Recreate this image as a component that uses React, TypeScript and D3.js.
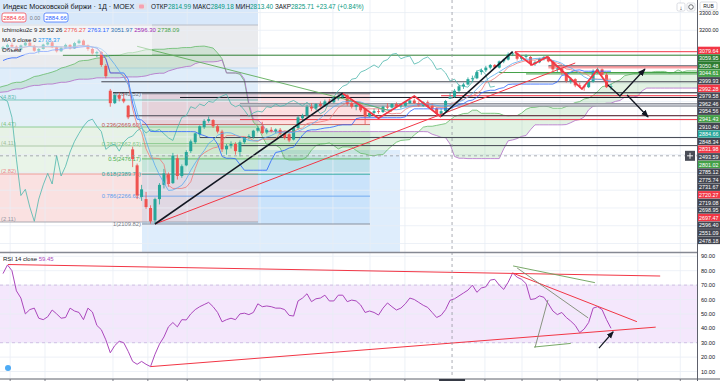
import React from "react";
import * as d3 from "d3";

// ---------- DATA ----------
// earlier candles (off-screen, used for Ichimoku windows) [open, high, low, close]
const preCandles: number[][] = [
  [2760,2775,2745,2770],[2770,2790,2760,2785],[2785,2800,2770,2795],[2795,2805,2775,2780],
  [2780,2810,2775,2805],[2805,2830,2800,2825],[2825,2845,2815,2840],[2840,2860,2830,2850],
  [2850,2870,2840,2865],[2865,2880,2850,2860],[2860,2890,2855,2885],[2885,2905,2875,2900],
  [2900,2925,2890,2918],[2918,2935,2905,2928],[2928,2940,2910,2915],[2915,2930,2895,2905],
  [2905,2925,2900,2920],[2920,2945,2915,2940],[2940,2955,2930,2950],[2950,2960,2935,2945],
  [2945,2965,2940,2960],[2960,2985,2955,2980],[2980,2995,2965,2975],[2975,2990,2960,2985],
  [2985,3010,2980,3005],[3005,3025,2995,3020],[3020,3035,3005,3015],[3015,3030,3000,3025],
  [3025,3045,3020,3040],[3040,3050,3025,3030],[3030,3045,3020,3042],[3042,3060,3035,3055],
  [3055,3070,3045,3050],[3050,3065,3040,3060],[3060,3080,3055,3075],[3075,3095,3065,3090],
  [3090,3105,3075,3080],[3080,3090,3060,3070],[3070,3095,3065,3090],[3090,3110,3085,3105],
  [3105,3120,3095,3100],[3100,3110,3080,3085],[3085,3100,3075,3095],[3095,3115,3090,3110],
  [3110,3120,3085,3095],
];

// visible daily candles [open, high, low, close]
const candles: number[][] = [
  [3095,3112,3080,3105],[3105,3125,3098,3118],[3118,3130,3100,3108],[3108,3115,3085,3090],
  [3090,3120,3088,3115],[3115,3135,3110,3130],[3130,3142,3110,3112],[3112,3118,3080,3085],
  [3085,3100,3070,3095],[3095,3125,3092,3120],[3120,3138,3115,3132],[3132,3140,3100,3105],
  [3105,3112,3075,3082],[3082,3108,3078,3102],[3102,3125,3098,3118],[3118,3122,3092,3098],
  [3098,3135,3095,3128],[3128,3150,3122,3142],[3142,3148,3110,3115],[3115,3120,3085,3095],
  [3095,3105,3062,3070],[3070,3085,3050,3078],[3078,3082,2995,3005],[3000,3010,2930,2942],
  [2860,2870,2770,2790],[2790,2845,2785,2835],[2835,2850,2800,2815],[2815,2845,2790,2800],
  [2776,2780,2700,2710],[2530,2545,2430,2475],[2440,2450,2250,2270],[2262,2330,2240,2305],
  [2250,2290,2195,2205],[2200,2215,2112,2125],[2130,2258,2109.82,2250],[2250,2340,2220,2330],
  [2330,2420,2310,2395],[2390,2400,2320,2335],[2340,2510,2335,2495],[2480,2500,2360,2380],
  [2380,2445,2370,2435],[2440,2525,2435,2515],[2520,2585,2510,2575],[2570,2625,2560,2620],
  [2615,2665,2600,2660],[2655,2700,2645,2690],[2690,2715,2680,2700],[2695,2700,2650,2660],
  [2660,2670,2620,2630],[2630,2640,2515,2530],[2530,2560,2500,2550],[2550,2575,2535,2560],
  [2560,2570,2500,2520],[2515,2580,2490,2570],[2570,2600,2560,2595],[2595,2615,2585,2605],
  [2600,2640,2590,2635],[2635,2660,2625,2650],[2660,2685,2615,2622],[2625,2650,2615,2640],
  [2640,2655,2625,2632],[2632,2648,2620,2642],[2640,2650,2610,2618],[2618,2625,2585,2595],
  [2615,2625,2570,2580],[2585,2660,2580,2650],[2650,2720,2640,2710],[2705,2730,2690,2720],
  [2720,2780,2710,2770],[2770,2790,2745,2760],[2760,2790,2750,2785],[2785,2800,2765,2775],
  [2775,2810,2770,2800],[2800,2815,2785,2795],[2795,2825,2790,2818],[2815,2840,2805,2830],
  [2825,2846,2818,2840],[2835,2840,2775,2785],[2790,2800,2760,2770],[2770,2790,2750,2780],
  [2780,2785,2740,2750],[2760,2765,2670,2715],[2715,2740,2710,2735],[2735,2760,2725,2745],
  [2745,2760,2730,2740],[2740,2775,2735,2770],[2770,2790,2755,2765],[2765,2790,2760,2785],
  [2785,2795,2765,2772],[2772,2785,2760,2778],[2775,2800,2770,2795],[2790,2810,2785,2805],
  [2805,2815,2785,2790],[2790,2800,2770,2775],[2775,2800,2770,2795],[2795,2805,2765,2770],
  [2775,2790,2750,2760],[2760,2765,2715,2730],[2730,2760,2715,2745],[2745,2808,2740,2802.24],
  [2814.99,2849.18,2813.40,2825.71],[2826,2870,2820,2860],[2860,2895,2850,2885],[2885,2905,2870,2895],
  [2895,2935,2890,2925],[2925,2945,2910,2930],[2930,2975,2925,2965],[2965,2985,2950,2975],
  [2975,3000,2965,2990],[2990,3010,2980,3005],[3005,3010,2985,2990],[2990,3030,2985,3025],
  [3025,3040,3015,3035],[3035,3075,3030,3065],[3065,3079.64,3055,3070],[3070,3075,3030,3040],
  [3040,3060,3030,3050],[3050,3065,3040,3055],[3050,3055,3000,3010],[3010,3030,3000,3020],
  [3020,3045,3015,3040],[3040,3055,3030,3050],[3050,3058,3020,3025],[3025,3030,2970,2980],
  [2980,2995,2965,2985],[2985,2990,2950,2960],[2960,2965,2905,2915],[2915,2935,2900,2925],
  [2925,2930,2880,2890],[2890,2905,2875,2885],[2885,2895,2860,2880],[2880,2920,2875,2910],
  [2910,2980,2905,2970],[2970,2990,2955,2980],[2980,2985,2945,2950],[2950,2960,2875,2880],
  [2880,2900,2865,2884.66],
];

// RSI(14) per visible candle
const rsiValues: number[] = [
  78,84,80,66,61,50,53,54,47,46,48,52.7,50,47,47.5,54,52,51,46,54,51.3,42,39,32,23,28,31,30,24,17,
  15,17,15,13.4,22,29,34,41,44,41,46,45.8,50,53,55,56.5,58,55,51,44.5,46,47,46,50,50.5,49.5,51,57,
  55,55.5,55,54,54,53,49,48.5,59,61,64,58.5,60.5,61,63,59,59,63,63,58.5,59.6,59,56.2,51,52,51,49.2,
  54,57.6,55,52.7,54,57,61,60,58,56,54.5,51,47.5,49,53,59.45,60.5,62.5,64.5,66.5,70,65,68,68.8,73.5,
  74,70,67,72,78.4,75.5,74,71,60,60.5,62.5,61.5,57,52,49.5,51,47.5,45,42,37,39.5,44,54,55,53,46,40,
];

const priceGrid = [2000, 2100, 2200, 2300, 2400, 2500, 2600, 2700, 2800, 2900, 3000, 3100, 3200, 3300];
const priceTickLabels = [3300, 3200];
const rsiGrid = [10, 20, 30, 40, 50, 60, 70, 80, 90];
const timeGridIdx = [1.6, 9.4, 24.6, 32.4, 41.2, 57.5, 73.8, 82.1, 89.9, 107.8, 116.1, 124.6, 132.9, 142, 151.5];

// left Fibonacci box levels (prices) and labels
const leftFibLevels = [3380, 3229.9, 2987.9, 2807.8, 2655.8, 2548.8, 2391.2, 2121.0];
const leftFibLabels = ["", "", "", "(4.83)", "(4.47)", "(4.11)", "(2.82)", "(2.11)"];
// second Fibonacci retracement
const fibTop = 2842.52;
const fibBottom = 2109.82;
const fibRatios = [0, 0.236, 0.382, 0.5, 0.618, 0.786, 1];

// horizontal rays: price, start index, kind
const hRayPrices = [3079.64, 3059.95, 2999.93, 2992.28, 2962.46, 2954.56, 2910.40, 2848.34, 2831.98, 2822, 2785.12, 2775.74, 2720.27, 2719.08, 2697.47, 2596.40, 2551.09];
const hRayStart = [114.5, 13.4, 122, 122, 111, 117, 22, 24.6, 98, 39.6, 53, 53, 53, 27.7, 53, 44, 53];
const hRayKind = ["red", "dgreen", "dark", "pink", "green", "green", "dark", "black", "red", "black", "grey", "grey", "red", "dark", "red", "dark", "dark"];

// right-axis stacked price labels
const axisLabelText = ["3079.64","3059.95","3050.48","3044.61","2999.93","2992.28","2979.58","2962.46","2954.56","2941.43","2910.40","2884.66","2848.34","2831.98","2493.59","2801.02","2785.12","2775.74","2731.67","2720.27","2719.08","2698.95","2697.47","2596.40","2551.09","2478.18"];
const axisLabelKind = ["red","dgreen","dgreen","green","dark","red","dark","dark","dark","green","dark","teal","dark","red","cross","green","dark","dark","dark","red","dark","dark","red","dark","dark","dark"];

// drawings (index, price)
const blackTrend1 = [[34, 2109.82], [76, 2846]];
const blackTrend2 = [[98, 2715], [114, 3079.64]];
const redTrend = [[34, 2109.82], [128, 3016]];
const greenDiag = [[30, 3110], [87, 2745]];
const zigzag1 = [[76, 2845], [84, 2705], [92, 2830], [98, 2712]];
const zigzag2 = [[114.5, 3078], [118.3, 3005], [121.7, 3050], [129.5, 2870], [132.9, 2977], [135.3, 2892]];
const arrowUp = [[135.3, 2892], [138, 2830], [143.6, 2982]];
const arrowDown = [[139.6, 2836], [144.3, 2712]];
const crossIdx = 100;
const crossPrice = 2493.59;

// RSI drawings (index, value)
const rsiRedTop = [[1.1, 84.3], [147, 76.3]];
const rsiRedLow = [[33, 13.4], [146, 40.8]];
const rsiRedMid = [[114, 78.4], [141.8, 44.6]];
const rsiGreen1 = [[114.1, 83.3], [132.4, 71.7]];
const rsiGrey1 = [[115, 81.9], [130.9, 47.2]];
const rsiGrey2 = [[121.9, 59.7], [119, 26.6]];
const rsiGreen2 = [[118.8, 27], [127, 29.5]];
const rsiArrow = [[133.3, 26.3], [136.5, 37.6]];

// ---------- CHART ----------
const FONT = "'Liberation Sans', Arial, sans-serif";
const PLOT_R = 697;
const MAIN_B = 252;
const RSI_T = 253;
const RSI_B = 378;

const kindColor: Record<string, string> = {
  red: "#f23645", dgreen: "#2e7d32", green: "#43a047", dark: "#434651", black: "#131722",
  grey: "#9598a1", pink: "#f77c80", teal: "#26a69a", cross: "#4a4d57",
};

export default function App() {
  const x = d3.scaleLinear().domain([0, 136]).range([3, 611]);
  const y = d3.scaleLinear().domain([2109.82, 3079.64]).range([224, 51.7]);
  const yr = d3.scaleLinear().domain([30, 90]).range([342.7, 256.3]);

  const all = preCandles.concat(candles);
  const off = preCandles.length;
  const mid = (k: number, n: number) => {
    let hi = -Infinity, lo = Infinity;
    for (let j = Math.max(0, k - n + 1); j <= k; j++) {
      hi = Math.max(hi, all[j][1]);
      lo = Math.min(lo, all[j][2]);
    }
    return (hi + lo) / 2;
  };
  const tenkan = candles.map((_, i) => [i, mid(i + off, 9)]);
  const kijun = candles.map((_, i) => [i, mid(i + off, 26)]);
  const spans = all.map((_, k) => ({ i: k - off + 26, a: (mid(k, 9) + mid(k, 26)) / 2, b: mid(k, 52) })).filter((d) => d.i >= -3);
  const chikou = candles.map((c, i) => [i - 26, c[3]]);
  const ma9 = candles.map((_, i) => {
    const k = i + off;
    const s = d3.mean(all.slice(Math.max(0, k - 8), k + 1), (d) => d[3]) as number;
    return [i, s];
  });

  const pLine = d3.line<number[]>().x((d) => x(d[0])).y((d) => y(d[1]));
  const rLine = d3.line<number[]>().x((d) => x(d[0])).y((d) => yr(d[1]));
  const cloud = d3.area<any>().x((d) => x(d.i)).y0((d) => y(d.b)).y1((d) => y(d.a));
  const rsiPts = rsiValues.map((v, i) => [i, v]);

  const fibLevels = fibRatios.map((r) => fibTop - r * (fibTop - fibBottom));
  const fibBandColors = ["rgba(242,54,69,0.16)", "rgba(76,175,80,0.14)", "rgba(76,175,80,0.16)", "rgba(0,150,136,0.14)", "rgba(33,150,243,0.10)", "rgba(33,150,243,0.10)"];
  const fibLineColors = ["#787b86", "#c0504d", "#81c784", "#4caf50", "#26a69a", "#5c9ded", "#787b86"];
  const leftBandColors = ["#d4e6f9", "#e8e9ec", "#dcebfa", "#e0eef6", "#e4f1e3", "#e7f3e5", "#f9dede"];
  const leftLineColors = ["none", "#b0b3bb", "#b8d4f0", "#5fbfb0", "#7cc47f", "#9fbf9a", "#ef8a8a", "#9598a1"];

  const fibX0 = 142, fibX1 = 370;
  const leftX1 = 258;

  const axisLabelY = (n: number) => 50.5 + 7.6 * n;

  return (
    <svg width={720} height={381} style={{ position: "absolute", left: 0, top: 0, background: "#fff", fontFamily: FONT }}>
      <defs>
        <clipPath id="mainClip"><rect x={0} y={0} width={PLOT_R} height={MAIN_B} /></clipPath>
        <clipPath id="rsiClip"><rect x={0} y={RSI_T} width={PLOT_R} height={RSI_B - RSI_T} /></clipPath>
        <marker id="arrowB" viewBox="0 0 10 10" refX="9" refY="5" markerWidth="6" markerHeight="6" orient="auto">
          <path d="M0,1 L10,5 L0,9 z" fill="#131722" />
        </marker>
      </defs>
      <rect x={0} y={0} width={720} height={381} fill="#ffffff" />

      {/* ===== MAIN PANE ===== */}
      <g clipPath="url(#mainClip)">
        <rect x={fibX0} y={150} width={400 - fibX0} height={MAIN_B - 150} fill="#deedfc" />
        {leftBandColors.map((c, k) => (
          <rect key={"lb" + k} x={0} y={y(leftFibLevels[k])} width={leftX1} height={y(leftFibLevels[k + 1]) - y(leftFibLevels[k])} fill={c} opacity={0.9} />
        ))}
        {fibBandColors.map((c, k) => (
          <rect key={"fb" + k} x={fibX0} y={y(fibLevels[k])} width={fibX1 - fibX0} height={y(fibLevels[k + 1]) - y(fibLevels[k])} fill={c} />
        ))}
        {priceGrid.map((p) => (
          <line key={"pg" + p} x1={0} x2={PLOT_R} y1={y(p)} y2={y(p)} stroke="#e9edf5" strokeWidth={0.8} />
        ))}
        {timeGridIdx.map((t) => (
          <line key={"tg" + t} x1={x(t)} x2={x(t)} y1={0} y2={MAIN_B} stroke="#e9edf5" strokeWidth={0.8} />
        ))}
        {leftFibLevels.map((p, k) => leftLineColors[k] === "none" ? null : (
          <line key={"ll" + k} x1={0} x2={leftX1} y1={y(p)} y2={y(p)} stroke={leftLineColors[k]} strokeWidth={0.8} />
        ))}
        {leftFibLabels.map((t, k) => t ? (
          <text key={"lt" + k} x={1} y={y(leftFibLevels[k]) - 1} fontSize={5.8} fill={leftLineColors[k]}>{t}</text>
        ) : null)}
        {fibLevels.map((p, k) => (
          <g key={"fl" + k}>
            <line x1={fibX0} x2={fibX1} y1={y(p)} y2={y(p)} stroke={fibLineColors[k]} strokeWidth={0.8} />
            <text x={fibX0 - 1} y={y(p) + 2} fontSize={5.8} textAnchor="end" fill={fibLineColors[k]}>
              {`${fibRatios[k]}(${p.toFixed(2)})`}
            </text>
          </g>
        ))}
        <path d={cloud(spans) || ""} fill="rgba(76,175,80,0.16)" />
        <path d={pLine(spans.map((d) => [d.i, d.a])) || ""} fill="none" stroke="#66bb6a" strokeWidth={0.8} />
        <path d={pLine(spans.map((d) => [d.i, d.b])) || ""} fill="none" stroke="#b26cc9" strokeWidth={0.8} />
        {hRayPrices.map((p, k) => (
          <line key={"hr" + k} x1={x(hRayStart[k])} x2={PLOT_R} y1={y(p)} y2={y(p)}
            stroke={kindColor[hRayKind[k]]}
            strokeWidth={hRayKind[k] === "pink" ? 2.5 : hRayKind[k] === "grey" ? 2 : 1}
            opacity={hRayKind[k] === "pink" ? 0.7 : 1} />
        ))}
        <rect x={x(53)} y={y(2785.12)} width={PLOT_R - x(53)} height={y(2775.74) - y(2785.12)} fill="#c3c6ce" />
        <path d={pLine(chikou) || ""} fill="none" stroke="#4db6ac" strokeWidth={0.8} />
        {candles.map((c, i) => {
          const up = c[3] >= c[0];
          const col = up ? "#26a69a" : "#ef5350";
          const top = y(Math.max(c[0], c[3]));
          const bot = y(Math.min(c[0], c[3]));
          return (
            <g key={"c" + i}>
              <line x1={x(i)} x2={x(i)} y1={y(c[1])} y2={y(c[2])} stroke={col} strokeWidth={0.8} />
              <rect x={x(i) - 1.5} y={top} width={3} height={Math.max(0.8, bot - top)} fill={col} />
            </g>
          );
        })}
        <path d={pLine(tenkan) || ""} fill="none" stroke="#ef7a7a" strokeWidth={0.8} />
        <path d={pLine(kijun) || ""} fill="none" stroke="#2962ff" strokeWidth={0.8} />
        <path d={pLine(ma9) || ""} fill="none" stroke="#5aa9f0" strokeWidth={0.8} />
        <path d={pLine(greenDiag) || ""} fill="none" stroke="#5fae5a" strokeWidth={0.9} />
        <path d={pLine(redTrend) || ""} fill="none" stroke="#f23645" strokeWidth={1} />
        <path d={pLine(blackTrend1) || ""} fill="none" stroke="#131722" strokeWidth={1.6} />
        <path d={pLine(blackTrend2) || ""} fill="none" stroke="#131722" strokeWidth={1.6} />
        <path d={pLine(zigzag1) || ""} fill="none" stroke="#f23645" strokeWidth={1.8} />
        <path d={pLine(zigzag2) || ""} fill="none" stroke="#f23645" strokeWidth={1.8} />
        <path d={pLine(arrowUp) || ""} fill="none" stroke="#131722" strokeWidth={1.3} markerEnd="url(#arrowB)" />
        <path d={pLine(arrowDown) || ""} fill="none" stroke="#131722" strokeWidth={1.3} markerEnd="url(#arrowB)" />
        <line x1={0} x2={PLOT_R} y1={y(crossPrice)} y2={y(crossPrice)} stroke="#9598a1" strokeWidth={0.8} strokeDasharray="3,3" />
      </g>

      {/* legend */}
      <rect x={0} y={24} width={152} height={31} fill="rgba(255,255,255,0.45)" />
      <text x={3} y={9} fontSize={7.2} fill="#131722">Индекс Московской биржи · 1Д · MOEX</text>
      <rect x={136} y={3} width={11} height={7} rx={2} fill="#e0e3eb" />
      <rect x={139} y={4.5} width={5} height={4} rx={1} fill="#f7a1b0" />
      <text x={151} y={9} fontSize={6.4} fill="#131722">
        ОТКР<tspan fill="#089981">2814.99</tspan> МАКС<tspan fill="#089981">2849.18</tspan> МИН<tspan fill="#089981">2813.40</tspan> ЗАКР<tspan fill="#089981">2825.71 +23.47 (+0.84%)</tspan>
      </text>
      <rect x={2} y={13} width={24} height={9} rx={2} fill="#fff" stroke="#f23645" strokeWidth={0.7} />
      <text x={14} y={20} fontSize={6} textAnchor="middle" fill="#f23645">2884.66</text>
      <text x={35} y={20} fontSize={5.4} textAnchor="middle" fill="#787b86">0.00</text>
      <rect x={44} y={13} width={24} height={9} rx={2} fill="#fff" stroke="#2962ff" strokeWidth={0.7} />
      <text x={56} y={20} fontSize={6} textAnchor="middle" fill="#2962ff">2884.66</text>
      <text x={2} y={32} fontSize={6} fill="#131722">
        Ichimoku2c 9 26 52 26 <tspan fill="#ef5350">2776.27</tspan> <tspan fill="#2962ff">2763.17</tspan> <tspan fill="#2a6fb0">3051.97</tspan> <tspan fill="#9c27b0">2596.30</tspan> <tspan fill="#43a047">2738.09</tspan>
      </text>
      <text x={2} y={42} fontSize={6} fill="#131722">
        MA 9 close 0 <tspan fill="#2196f3">2778.37</tspan>
      </text>
      <text x={2} y={52} fontSize={6} fill="#131722">Объем</text>

      {/* ===== RSI PANE ===== */}
      <g clipPath="url(#rsiClip)">
        <rect x={0} y={yr(70)} width={PLOT_R} height={yr(30) - yr(70)} fill="#f4e7fc" />
        {rsiGrid.map((v) => (
          <line key={"rg" + v} x1={0} x2={PLOT_R} y1={yr(v)} y2={yr(v)} stroke="#e9edf5" strokeWidth={0.8} />
        ))}
        {timeGridIdx.map((t) => (
          <line key={"rt" + t} x1={x(t)} x2={x(t)} y1={RSI_T} y2={RSI_B} stroke="#e9edf5" strokeWidth={0.8} />
        ))}
        <line x1={0} x2={PLOT_R} y1={yr(70)} y2={yr(70)} stroke="#c9b3e0" strokeWidth={0.8} strokeDasharray="3,3" />
        <line x1={0} x2={PLOT_R} y1={yr(30)} y2={yr(30)} stroke="#c9b3e0" strokeWidth={0.8} strokeDasharray="3,3" />
        <path d={rLine(rsiPts) || ""} fill="none" stroke="#ab47bc" strokeWidth={1} />
        <path d={rLine(rsiRedTop) || ""} fill="none" stroke="#f23645" strokeWidth={1} />
        <path d={rLine(rsiRedLow) || ""} fill="none" stroke="#f23645" strokeWidth={1} />
        <path d={rLine(rsiRedMid) || ""} fill="none" stroke="#f23645" strokeWidth={1} />
        <path d={rLine(rsiGreen1) || ""} fill="none" stroke="#6a9f58" strokeWidth={0.9} />
        <path d={rLine(rsiGrey1) || ""} fill="none" stroke="#7d8a72" strokeWidth={0.9} />
        <path d={rLine(rsiGrey2) || ""} fill="none" stroke="#7d8a72" strokeWidth={0.9} />
        <path d={rLine(rsiGreen2) || ""} fill="none" stroke="#6a9f58" strokeWidth={0.9} />
        <path d={rLine(rsiArrow) || ""} fill="none" stroke="#131722" strokeWidth={1.2} markerEnd="url(#arrowB)" />
      </g>
      <text x={3} y={261} fontSize={6} fill="#131722">RSI 14 close <tspan fill="#ab47bc">59.45</tspan></text>

      <line x1={x(crossIdx) + 2} x2={x(crossIdx) + 2} y1={0} y2={RSI_B} stroke="#9598a1" strokeWidth={0.8} strokeDasharray="3,3" />

      {/* pane separator and axes */}
      <line x1={0} x2={PLOT_R} y1={252.5} y2={252.5} stroke="#868993" strokeWidth={1.3} />
      <rect x={PLOT_R} y={0} width={720 - PLOT_R} height={381} fill="#fff" />
      <line x1={PLOT_R + 0.5} x2={PLOT_R + 0.5} y1={0} y2={381} stroke="#5d606b" strokeWidth={1} />
      <line x1={0} x2={720} y1={RSI_B + 1} y2={RSI_B + 1} stroke="#5d606b" strokeWidth={1} />
      {timeGridIdx.map((t) => (
        <line key={"tt" + t} x1={x(t)} x2={x(t)} y1={RSI_B + 1} y2={381} stroke="#5d606b" strokeWidth={0.8} />
      ))}
      <rect x={x(crossIdx) - 11} y={RSI_B + 1} width={26} height={3} fill="#363a45" />

      {/* price axis */}
      {priceTickLabels.map((p) => (
        <text key={"pt" + p} x={699} y={y(p) + 2} fontSize={5.4} fill="#131722">{p.toFixed(2)}</text>
      ))}
      <rect x={700} y={2} width={17} height={8} rx={1.5} fill="#fff" stroke="#c5c8d0" strokeWidth={0.6} />
      <text x={708.5} y={8} fontSize={5} textAnchor="middle" fill="#131722">RUB</text>
      <rect x={677} y={3} width={8} height={8} rx={1.5} fill="#fff" stroke="#c5c8d0" strokeWidth={0.6} />
      <rect x={687} y={3} width={8} height={8} rx={1.5} fill="#fff" stroke="#c5c8d0" strokeWidth={0.6} />
      <text x={681} y={9.5} fontSize={6} textAnchor="middle" fill="#131722">↓</text>
      <circle cx={691} cy={7} r={2.3} fill="none" stroke="#131722" strokeWidth={0.6} />
      {axisLabelText.map((t, n) => (
        <g key={"al" + n}>
          <rect x={PLOT_R + 1} y={axisLabelY(n) - 3.8} width={720 - PLOT_R - 1} height={7.4} fill={kindColor[axisLabelKind[n]]} />
          <text x={PLOT_R + 2} y={axisLabelY(n) + 2} fontSize={5.4} fill="#ffffff">{t}</text>
        </g>
      ))}
      <rect x={685} y={y(crossPrice) - 5} width={10} height={10} fill="#4a4d57" />
      <path d={`M${690},${y(crossPrice) - 3} v6 M${687},${y(crossPrice)} h6`} stroke="#fff" strokeWidth={0.9} />
      {rsiGrid.map((v) => (
        <text key={"ra" + v} x={701} y={yr(v) + 2} fontSize={5.6} fill="#131722">{v.toFixed(2)}</text>
      ))}
      <circle cx={8} cy={368} r={3} fill="#2196f3" opacity={0.8} />
    </svg>
  );
}
